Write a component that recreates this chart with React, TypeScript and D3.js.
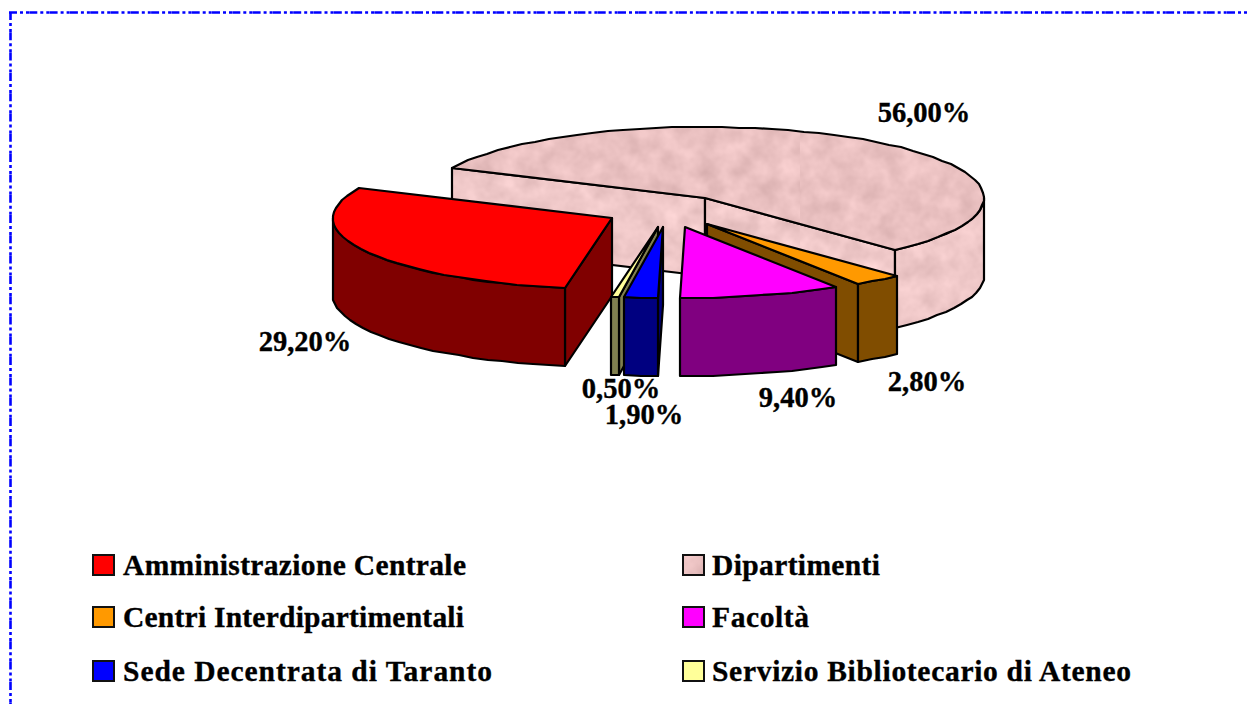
import * as d3 from 'd3';

const categories = [
  'Amministrazione Centrale',
  'Dipartimenti',
  'Centri Interdipartimentali',
  'Facoltà',
  'Sede Decentrata di Taranto',
  'Servizio Bibliotecario di Ateneo',
];
const values = [29.2, 56.0, 2.8, 9.4, 1.9, 0.5];
const valueLabels = ['29,20%', '56,00%', '2,80%', '9,40%', '1,90%', '0,50%'];
const topColors = ['#ff0000', 'url(#pinkTop)', '#ff9900', '#ff00ff', '#0000ff', '#ffff99'];
const sideColors = ['#800000', 'url(#pinkSide)', '#804d00', '#800080', '#000080', '#808050'];

const width = 1247;
const height = 704;
const cx = 668;
const cy = 211;
const rx = 279;
const ry = 71;
const depth = 78;
const explode = 0.227;
const startDeg = 189.75;
const serif = '"Liberation Serif", "Times New Roman", serif';

// label anchors (centre x, baseline y), same order as values
const labelPos = [
  [305, 351],
  [924, 122],
  [927, 391],
  [798, 407],
  [644, 424],
  [621, 398],
];
const legendCols = [93, 683];
const legendRows = [555, 607, 661];
const legendWidths = [343, 168, 341, 97, 369, 419];

const slices = d3
  .pie<number>()
  .sort(null)
  .startAngle((startDeg * Math.PI) / 180)
  .endAngle(((startDeg + 360) * Math.PI) / 180)(values);

const line = d3.line();

const App = () => {
  const marks = slices
    .map((s, i) => {
      const mid = (s.startAngle + s.endAngle) / 2;
      const ox = Math.round(cx + explode * rx * Math.sin(mid));
      const oy = Math.round(cy - explode * ry * Math.cos(mid));
      const at = (t: number, z = 0): [number, number] => [
        Math.round(ox + rx * Math.sin(t)),
        Math.round(oy - ry * Math.cos(t)) + z,
      ];
      const arcPts = (a: number, b: number, z = 0) => {
        const n = Math.max(1, Math.ceil((b - a) / 0.06));
        return d3.range(n + 1).map((k) => at(a + ((b - a) * k) / n, z));
      };
      const top = line([[ox, oy], ...arcPts(s.startAngle, s.endAngle)]) + 'Z';

      // cut faces only when they look towards the viewer
      const faces: string[] = [];
      [
        [s.startAngle, s.startAngle - Math.PI / 2],
        [s.endAngle, s.endAngle + Math.PI / 2],
      ].forEach(([t, normal]) => {
        if (Math.cos(normal) < 0) {
          const p = at(t);
          faces.push(line([[ox, oy], p, [p[0], p[1] + depth], [ox, oy + depth]]) + 'Z');
        }
      });

      // outer wall, front half of the ellipse only
      const rims: string[] = [];
      [0, 2 * Math.PI].forEach((turn) => {
        const a = Math.max(s.startAngle, Math.PI / 2 + turn);
        const b = Math.min(s.endAngle, (3 * Math.PI) / 2 + turn);
        if (a < b) {
          rims.push(line([...arcPts(a, b), ...arcPts(a, b, depth).reverse()]) + 'Z');
        }
      });

      return { i, top, faces, rims, order: -Math.cos(mid) };
    })
    .sort((a, b) => d3.ascending(a.order, b.order));

  return (
    <svg
      width={width}
      height={height}
      viewBox={`0 0 ${width} ${height}`}
      style={{ position: 'absolute', left: 0, top: 0, background: '#fff', display: 'block' }}
    >
      <defs>
        <filter id="marble" x="0" y="0" width="100%" height="100%" colorInterpolationFilters="sRGB">
          <feTurbulence type="fractalNoise" baseFrequency="0.05" numOctaves="3" seed="7" result="n" />
          <feColorMatrix
            in="n"
            type="matrix"
            values="1 0 0 0 0  1 0 0 0 0  1 0 0 0 0  0 0 0 0 1"
            result="g"
          />
          <feComposite in="SourceGraphic" in2="g" operator="arithmetic" k1="0" k2="1" k3="0.16" k4="-0.08" />
        </filter>
        <pattern id="pinkTop" patternUnits="userSpaceOnUse" width="800" height="400">
          <rect width="800" height="400" fill="#eac1c1" filter="url(#marble)" />
        </pattern>
        <pattern id="pinkSide" patternUnits="userSpaceOnUse" width="800" height="400">
          <rect width="800" height="400" fill="#efc8c8" filter="url(#marble)" />
        </pattern>
      </defs>

      <g fill="none" stroke="#0000ff" strokeWidth={2.6} strokeDasharray="8 3 3 3 3 0.3">
        <line x1={9} y1={12.5} x2={width} y2={12.5} />
        <line x1={10.5} y1={12} x2={10.5} y2={height} />
      </g>

      <g stroke="#000" strokeWidth={2.2} strokeLinejoin="round">
        {marks.map((m) => (
          <g key={categories[m.i]}>
            {m.faces.map((d, k) => (
              <path key={k} d={d} fill={sideColors[m.i]} />
            ))}
            {m.rims.map((d, k) => (
              <path key={k} d={d} fill={sideColors[m.i]} />
            ))}
            <path d={m.top} fill={topColors[m.i]} />
          </g>
        ))}
      </g>

      <g
        fontFamily={serif}
        fontWeight="bold"
        fontSize={28.5}
        fill="#000"
        stroke="#000"
        strokeWidth={0.35}
        textAnchor="middle"
      >
        {valueLabels.map((t, i) => (
          <text key={t} x={labelPos[i][0]} y={labelPos[i][1]}>
            {t}
          </text>
        ))}
      </g>

      <g fontFamily={serif} fontWeight="bold" fontSize={29.5} fill="#000">
        {categories.map((c, i) => {
          const x = legendCols[i % 2];
          const y = legendRows[Math.floor(i / 2)];
          return (
            <g key={c}>
              <rect
                x={x}
                y={y}
                width={21}
                height={20}
                fill={topColors[i]}
                stroke="#111"
                strokeWidth={2}
              />
              <text
                x={x + 30 - (i % 2)}
                y={y + 20}
                textLength={legendWidths[i]}
                lengthAdjust="spacing"
                stroke="#000"
                strokeWidth={0.35}
              >
                {c}
              </text>
            </g>
          );
        })}
      </g>
    </svg>
  );
};

export default App;
